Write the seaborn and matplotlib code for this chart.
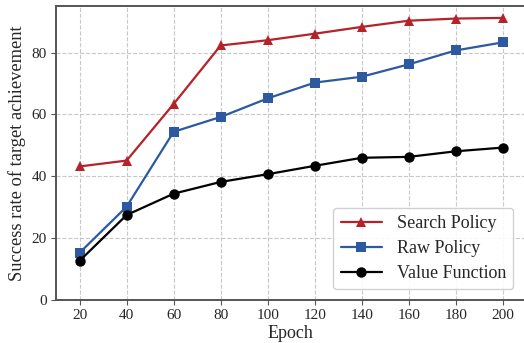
import pandas as pd
import matplotlib
matplotlib.use("Agg")
import matplotlib.pyplot as plt
import seaborn as sns

epochs = [20, 40, 60, 80, 100, 120, 140, 160, 180, 200]
search_policy = [43.2, 45.1, 63.4, 82.3, 84.0, 86.1, 88.3, 90.3, 91.0, 91.2]
raw_policy = [15.3, 30.2, 54.4, 59.2, 65.2, 70.3, 72.2, 76.2, 80.7, 83.3]
value_function = [12.7, 27.5, 34.4, 38.2, 40.7, 43.4, 46.0, 46.3, 48.1, 49.3]

series_names = ["Search Policy", "Raw Policy", "Value Function"]
colors = {"Search Policy": "#b5222a", "Raw Policy": "#2d59a0", "Value Function": "#000000"}
markers = {"Search Policy": "^", "Raw Policy": "s", "Value Function": "o"}

df = pd.concat([
    pd.DataFrame({"Epoch": epochs, "rate": vals, "method": name})
    for name, vals in zip(series_names, [search_policy, raw_policy, value_function])
])

sns.set_style("whitegrid")
plt.rcParams["font.family"] = ["Liberation Serif", "DejaVu Serif"]

fig, ax = plt.subplots(figsize=(5.24, 3.43), dpi=100)
# the reference is cropped on the right, so the axes run off the edge
fig.subplots_adjust(left=0.107, right=1.0, bottom=0.125, top=0.982)

sns.lineplot(data=df, x="Epoch", y="rate", hue="method", style="method",
             palette=colors, markers=markers, dashes=False, markersize=7.5,
             linewidth=1.6, markeredgewidth=0, ax=ax)

ax.set_xlim(10, 209)
ax.set_ylim(0, 95)
ax.set_xticks(epochs)
ax.set_yticks([0, 20, 40, 60, 80])
ax.tick_params(labelsize=11, direction="out", length=3.5, color="#555555",
               left=True, bottom=True, pad=3)
ax.grid(True, linestyle="--", color="#c8c8c8", linewidth=0.8)
for s in ax.spines.values():
    s.set_color("#555555")
    s.set_linewidth(1.4)
ax.spines["right"].set_visible(False)

ax.set_xlabel("Epoch", fontsize=13, labelpad=2)
ax.set_ylabel("Success rate of target achievement", fontsize=13.3, labelpad=4)

ax.legend(title=None, loc="lower right", fontsize=13, frameon=True,
          framealpha=0.9, edgecolor="#cccccc", borderaxespad=0.6,
          bbox_to_anchor=(1.0, 0.0), handlelength=2.3, labelspacing=0.45)

fig.savefig("out.png", dpi=100)
